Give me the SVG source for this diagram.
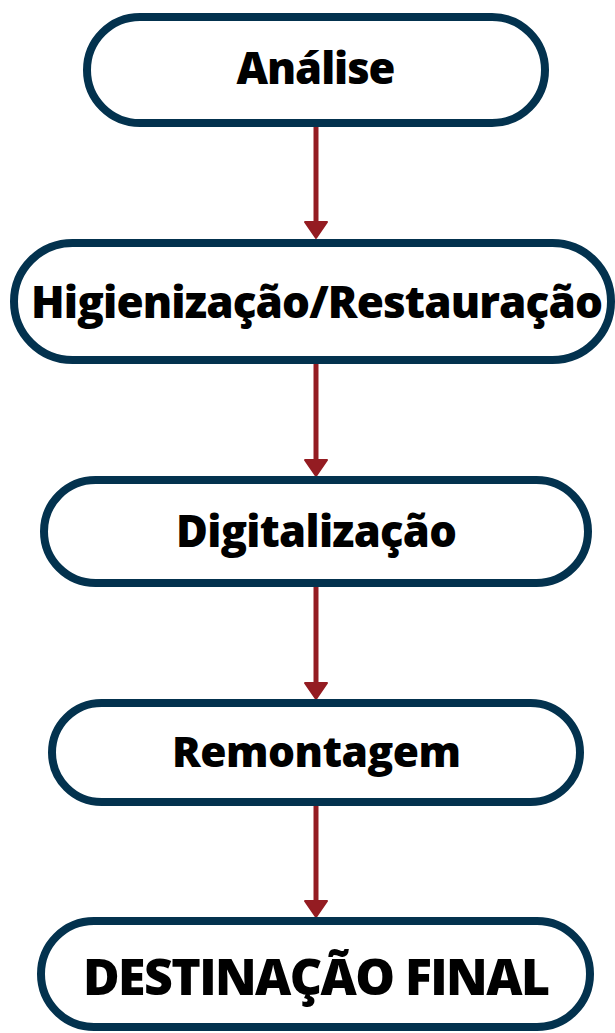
<svg xmlns="http://www.w3.org/2000/svg" width="615" height="1033" viewBox="0 0 615 1033">
<style>
.box{fill:#ffffff;stroke:#03324e;stroke-width:8}
.lbl{font-family:"Open Sans","Noto Sans","DejaVu Sans",sans-serif;font-weight:800;fill:#000000;text-anchor:middle}
.shaft{stroke:#941c22;stroke-width:5;fill:none}
.head{fill:#941c22;stroke:#941c22;stroke-width:2;stroke-linejoin:round}
</style>
<rect width="615" height="1033" fill="#ffffff"/>
<g id="connectors">
<line class="shaft" x1="316" y1="127" x2="316" y2="224"/>
<polygon class="head" points="305,222 327,222 316,238"/>
<line class="shaft" x1="316" y1="364" x2="316" y2="462"/>
<polygon class="head" points="305,460 327,460 316,476"/>
<line class="shaft" x1="316" y1="587" x2="316" y2="685"/>
<polygon class="head" points="305,683 327,683 316,699"/>
<line class="shaft" x1="316" y1="806" x2="316" y2="903"/>
<polygon class="head" points="305,901 327,901 316,917"/>
</g>
<g id="analise">
<rect class="box" x="87" y="17" width="458" height="106" rx="53" ry="53"/>
<text class="lbl" x="316" y="84" font-size="43.5" textLength="159">Análise</text>
</g>
<g id="higienizacao">
<rect class="box" x="14" y="243" width="597" height="117" rx="58.5" ry="58.5"/>
<text class="lbl" x="317" y="318" font-size="44" textLength="572">Higienização/Restauração</text>
</g>
<g id="digitalizacao">
<rect class="box" x="44" y="480" width="544" height="103" rx="51.5" ry="51.5"/>
<text class="lbl" x="316.5" y="547" font-size="43.5" textLength="281">Digitalização</text>
</g>
<g id="remontagem">
<rect class="box" x="52" y="703" width="528" height="99" rx="49.5" ry="49.5"/>
<text class="lbl" x="316.5" y="767" font-size="42.5" textLength="289">Remontagem</text>
</g>
<g id="destinacao">
<rect class="box" x="41" y="921" width="549" height="106" rx="53" ry="53"/>
<text class="lbl" x="316.5" y="995" font-size="50" textLength="467">DESTINAÇÃO FINAL</text>
</g>
</svg>
